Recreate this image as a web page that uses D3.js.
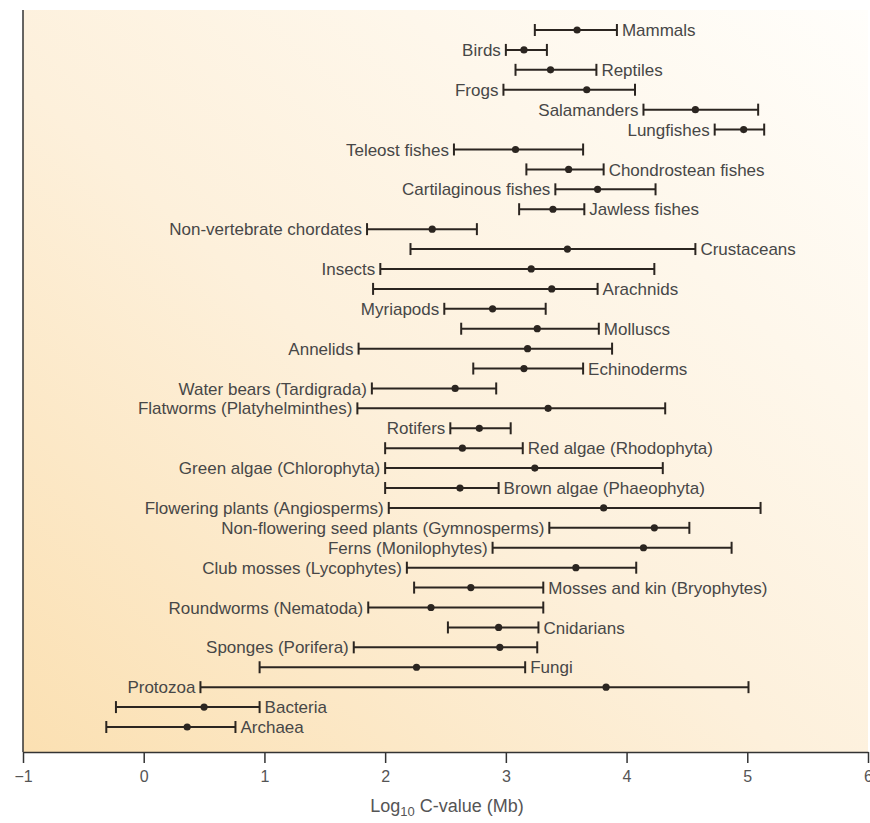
<!DOCTYPE html>
<html>
<head>
<meta charset="utf-8">
<script src="https://cdn.jsdelivr.net/npm/d3@7"></script>
<style>
  body { margin: 0; background: #fff; }
  text { font-family: "Liberation Sans", Arial, sans-serif; }
</style>
</head>
<body>
<div id="chart"></div>
<script>
const taxa = [
  "Mammals", "Birds", "Reptiles", "Frogs", "Salamanders", "Lungfishes",
  "Teleost fishes", "Chondrostean fishes", "Cartilaginous fishes", "Jawless fishes",
  "Non-vertebrate chordates", "Crustaceans", "Insects", "Arachnids", "Myriapods",
  "Molluscs", "Annelids", "Echinoderms", "Water bears (Tardigrada)",
  "Flatworms (Platyhelminthes)", "Rotifers", "Red algae (Rhodophyta)",
  "Green algae (Chlorophyta)", "Brown algae (Phaeophyta)",
  "Flowering plants (Angiosperms)", "Non-flowering seed plants (Gymnosperms)",
  "Ferns (Monilophytes)", "Club mosses (Lycophytes)", "Mosses and kin (Bryophytes)",
  "Roundworms (Nematoda)", "Cnidarians", "Sponges (Porifera)", "Fungi",
  "Protozoa", "Bacteria", "Archaea"
];
const minVals = [
  3.24, 3.00, 3.08, 2.98, 4.14, 4.73,
  2.57, 3.17, 3.41, 3.11,
  1.85, 2.21, 1.96, 1.90, 2.49,
  2.63, 1.78, 2.73, 1.89,
  1.77, 2.54, 2.00,
  2.00, 2.00,
  2.03, 3.36,
  2.89, 2.18, 2.24,
  1.86, 2.52, 1.74, 0.96,
  0.47, -0.23, -0.31
];
const meanVals = [
  3.59, 3.15, 3.37, 3.67, 4.57, 4.97,
  3.08, 3.52, 3.76, 3.39,
  2.39, 3.51, 3.21, 3.38, 2.89,
  3.26, 3.18, 3.15, 2.58,
  3.35, 2.78, 2.64,
  3.24, 2.62,
  3.81, 4.23,
  4.14, 3.58, 2.71,
  2.38, 2.94, 2.95, 2.26,
  3.83, 0.50, 0.36
];
const maxVals = [
  3.92, 3.34, 3.75, 4.07, 5.09, 5.14,
  3.64, 3.81, 4.24, 3.65,
  2.76, 4.57, 4.23, 3.76, 3.33,
  3.77, 3.88, 3.64, 2.92,
  4.32, 3.04, 3.14,
  4.30, 2.94,
  5.11, 4.52,
  4.87, 4.08, 3.31,
  3.31, 3.27, 3.26, 3.16,
  5.01, 0.96, 0.76
];
// which side of the bar the name sits on
const labelSide = [
  "R", "L", "R", "L", "L", "L",
  "L", "R", "L", "R",
  "L", "R", "L", "R", "L",
  "R", "L", "R", "L",
  "L", "L", "R",
  "L", "R",
  "L", "L",
  "L", "L", "R",
  "L", "R", "L", "R",
  "L", "R", "R"
];
const xTicks = [-1, 0, 1, 2, 3, 4, 5, 6];

const width = 870, height = 823;
const rows = taxa.map((name, i) => ({
  name, lo: minVals[i], mid: meanVals[i], hi: maxVals[i], side: labelSide[i]
}));

const svg = d3.select("#chart")
  .append("svg")
  .attr("width", width)
  .attr("height", height);

const x = d3.scaleLinear().domain([-1, 6]).range([23, 868]);
const y = d3.scalePoint().domain(taxa).range([30, 727]);

const plotTop = 10, plotBottom = 752;

// background gradient
const grad = svg.append("defs").append("linearGradient")
  .attr("id", "bg")
  .attr("x1", 0).attr("y1", 1)
  .attr("x2", 1).attr("y2", 0);
grad.append("stop").attr("offset", 0).attr("stop-color", "#fbe0b2");
grad.append("stop").attr("offset", 0.45).attr("stop-color", "#fdf0db");
grad.append("stop").attr("offset", 1).attr("stop-color", "#fffefb");

svg.append("rect")
  .attr("x", x(-1))
  .attr("y", plotTop)
  .attr("width", x(6) - x(-1))
  .attr("height", plotBottom - plotTop)
  .attr("fill", "url(#bg)");

// left axis line
svg.append("line")
  .attr("x1", x(-1)).attr("x2", x(-1))
  .attr("y1", plotTop).attr("y2", plotBottom)
  .attr("stroke", "#333")
  .attr("stroke-width", 1.5);

// bottom axis
const xAxis = svg.append("g")
  .attr("transform", `translate(0,${plotBottom})`)
  .call(d3.axisBottom(x)
    .tickValues(xTicks)
    .tickSize(11)
    .tickPadding(8)
    .tickSizeOuter(0)
    .tickFormat(d => d < 0 ? "\u2212" + Math.abs(d) : d));
xAxis.select(".domain").attr("stroke", "#333").attr("stroke-width", 1.5);
xAxis.selectAll(".tick line").attr("stroke", "#333").attr("stroke-width", 1.5);
xAxis.selectAll(".tick text")
  .attr("fill", "#555")
  .style("font-size", "16px")
  .style("font-family", "'Liberation Sans', Arial, sans-serif");

// axis title
const title = svg.append("text")
  .attr("x", 447)
  .attr("y", 812)
  .attr("text-anchor", "middle")
  .attr("fill", "#555")
  .style("font-size", "18px");
title.append("tspan").text("Log");
title.append("tspan").attr("dy", 4).style("font-size", "13px").text("10");
title.append("tspan").attr("dy", -4).text(" C-value (Mb)");

// error bars
const ink = "#2b2520";
const g = svg.append("g").selectAll("g").data(rows).enter()
  .append("g")
  .attr("transform", d => `translate(0,${y(d.name)})`);

g.append("line")
  .attr("x1", d => x(d.lo)).attr("x2", d => x(d.hi))
  .attr("stroke", ink).attr("stroke-width", 2);

g.selectAll(".cap").data(d => [d.lo, d.hi]).enter()
  .append("line")
  .attr("class", "cap")
  .attr("x1", v => x(v)).attr("x2", v => x(v))
  .attr("y1", -6).attr("y2", 6)
  .attr("stroke", ink).attr("stroke-width", 2);

g.append("circle")
  .attr("cx", d => x(d.mid))
  .attr("r", 3.6)
  .attr("fill", ink);

g.append("text")
  .attr("x", d => d.side === "R" ? x(d.hi) + 5 : x(d.lo) - 5)
  .attr("dy", "0.36em")
  .attr("text-anchor", d => d.side === "R" ? "start" : "end")
  .attr("fill", "#474747")
  .style("font-size", "17px")
  .text(d => d.name);
</script>
</body>
</html>
